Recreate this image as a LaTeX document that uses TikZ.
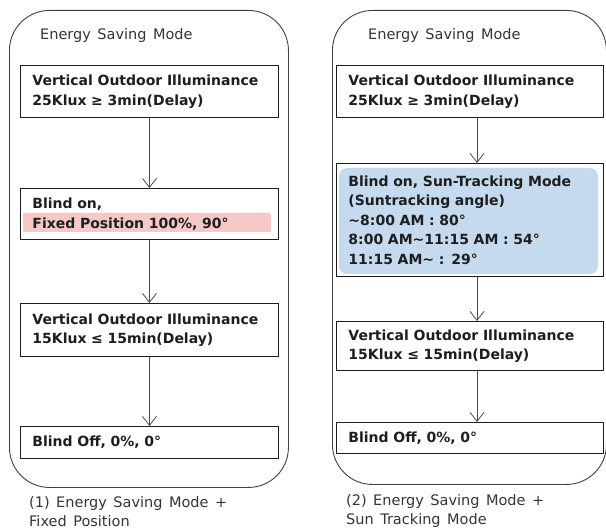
\documentclass[tikz,border=0pt]{standalone}
\usepackage{fontspec}
\setmainfont{DejaVu Sans}
\usetikzlibrary{arrows.meta,calc}
\definecolor{hired}{RGB}{246,200,200}
\definecolor{hiblue}{RGB}{197,218,238}
\definecolor{ink}{RGB}{30,30,30}
\newcommand\myboxfont{\bfseries\fontsize{14}{19.5}\selectfont\spaceskip=7pt plus 1pt\relax}
\newcommand\mylblfont{\fontsize{14.5}{19}\selectfont\spaceskip=6.5pt plus 1pt\relax}
\begin{document}
\begin{tikzpicture}[x=1pt,y=-1pt,
  panel/.style={draw=ink!85, line width=0.9pt, rounded corners=40pt, anchor=north west, inner sep=0pt},
  box/.style={draw=ink, line width=0.9pt, anchor=north west, align=left, inner xsep=12pt, inner ysep=0pt,
    font=\myboxfont, text=ink},
  lbox/.style={box, text width=234pt},
  rbox/.style={box, text width=243pt},
  flow/.style={draw=ink!80, line width=0.8pt, -{Straight Barb[length=9pt,width=14pt,line width=0.8pt]}},
  lbl/.style={anchor=base west, inner sep=0pt, font=\mylblfont, text=ink!90}]
\useasboundingbox[fill=white] (0,0) rectangle (606,532);

% ---------- left panel ----------
\node[panel, minimum width=279pt, minimum height=477pt] (lp) at (9,10) {};
\node[lbl] (lt) at (40,40) {Energy Saving Mode};
\fill[hired, rounded corners=2pt] (23,213) rectangle (271,232);
\node[lbox, minimum height=52pt] (l1) at (20,65) {Vertical Outdoor Illuminance\\25Klux ≥ 3min(Delay)};
\node[lbox, minimum height=51pt] (l2) at (20,188) {Blind on,\\Fixed Position 100\%, 90°};
\node[lbox, minimum height=53pt] (l3) at (20,303) {Vertical Outdoor Illuminance\\15Klux ≤ 15min(Delay)};
\node[lbox, minimum height=32pt] (l4) at (20,426) {Blind Off, 0\%, 0°};
\draw[flow] (l1.south) -- (l2.north);
\draw[flow] (l2.south) -- (l3.north);
\draw[flow] (l3.south) -- (l4.north);
\node[lbl] (lc1) at (29,507) {(1) Energy Saving Mode +};
\node[lbl] (lc2) at (29,526) {Fixed Position};

% ---------- right panel ----------
\node[panel, minimum width=274pt, minimum height=474pt] (rp) at (332,10) {};
\node[lbl] (rt) at (368,40) {Energy Saving Mode};
\fill[hiblue, rounded corners=8pt] (339,168) rectangle (598,274);
\node[rbox, minimum height=52pt] (r1) at (336,65) {Vertical Outdoor Illuminance\\25Klux ≥ 3min(Delay)};
\node[rbox, minimum height=113pt] (r2) at (336,163) {Blind on, Sun-Tracking Mode\\(Suntracking angle)\\\textasciitilde8:00 AM : 80°\\8:00 AM\textasciitilde11:15 AM : 54°\\11:15 AM\textasciitilde\ : 29°};
\node[rbox, minimum height=49pt] (r3) at (336,321) {Vertical Outdoor Illuminance\\15Klux ≤ 15min(Delay)};
\node[rbox, minimum height=31pt] (r4) at (336,422) {Blind Off, 0\%, 0°};
\coordinate (rx) at (477,0);
\draw[flow] (r1.south -| rx) -- (r2.north -| rx);
\draw[flow] (r2.south -| rx) -- (r3.north -| rx);
\draw[flow] (r3.south -| rx) -- (r4.north -| rx);
\node[lbl] (rc1) at (346,505) {(2) Energy Saving Mode +};
\node[lbl] (rc2) at (346,524) {Sun Tracking Mode};
\end{tikzpicture}
\end{document}
